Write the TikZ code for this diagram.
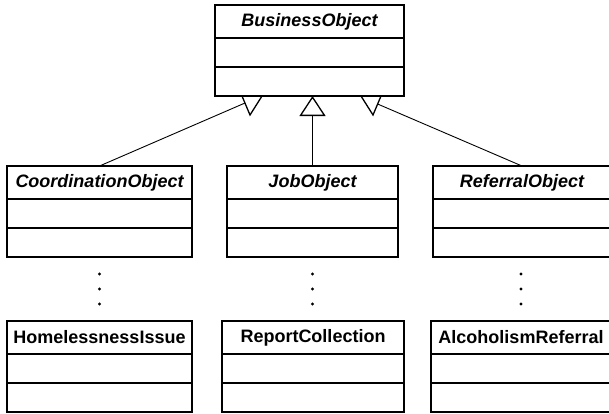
\documentclass[tikz,border=0pt]{standalone}
\usepackage{fontspec}
\setmainfont{Liberation Sans}
\usetikzlibrary{positioning,arrows.meta}

\tikzset{
	clsname/.style={draw,line width=1.6pt,minimum width=#1,minimum height=33pt,
		inner sep=0pt,outer sep=0pt,font=\fontsize{18}{20}\selectfont\bfseries},
	clsrow/.style={draw,line width=1.6pt,minimum width=#1,minimum height=29pt,
		inner sep=0pt,outer sep=0pt},
	inherit/.style={line width=0.9pt},
	hollow/.style={line width=1.3pt,line join=miter}
}

\begin{document}
\begin{tikzpicture}[x=1pt,y=-1pt]
	\useasboundingbox (0,0) rectangle (609,413);

	% parent class
	\node[clsname=189pt,anchor=north] (bo) at (309.5,5) {\itshape BusinessObject};
	\node[clsrow=189pt,below=0pt of bo] (bo2) {};
	\node[clsrow=189pt,below=0pt of bo2] (bo3) {};

	% abstract subclasses
	\node[clsname=185pt,anchor=north] (coord) at (99.5,166) {\itshape CoordinationObject};
	\node[clsrow=185pt,below=0pt of coord] (coord2) {};
	\node[clsrow=185pt,below=0pt of coord2] (coord3) {};

	\node[clsname=171pt,anchor=north] (job) at (312.5,166) {\itshape JobObject};
	\node[clsrow=171pt,below=0pt of job] (job2) {};
	\node[clsrow=171pt,below=0pt of job2] (job3) {};

	\node[clsname=178pt,anchor=north] (ref) at (522,166) {\itshape ReferralObject};
	\node[clsrow=178pt,below=0pt of ref] (ref2) {};
	\node[clsrow=178pt,below=0pt of ref2] (ref3) {};

	% concrete classes
	\node[clsname=185pt,anchor=north] (hi) at (99.5,321) {HomelessnessIssue};
	\node[clsrow=185pt,below=0pt of hi] (hi2) {};
	\node[clsrow=185pt,below=0pt of hi2] (hi3) {};

	\node[clsname=182pt,anchor=north] (rc) at (313,321) {ReportCollection};
	\node[clsrow=182pt,below=0pt of rc] (rc2) {};
	\node[clsrow=182pt,below=0pt of rc2] (rc3) {};

	\node[clsname=180pt,anchor=north] (ar) at (521,321) {AlcoholismReferral};
	\node[clsrow=180pt,below=0pt of ar] (ar2) {};
	\node[clsrow=180pt,below=0pt of ar2] (ar3) {};

%	====================================================================
	\draw[inherit,-{Triangle[open,length=20pt,width=26pt,line width=1.3pt]}]
		(job.north) -- (job.north |- bo3.south);

	\coordinate (lvl) at (245,103);
	\coordinate (rvr) at (377.6,104);
	\draw[hollow] (242,96) -- (250,115) -- (262,96);
	\draw[hollow] (361,96) -- (373,115) -- (381,96);
	\draw[inherit] (coord.north) -- (lvl);
	\draw[inherit] (ref.north) -- (rvr);
%	====================================================================

	\foreach \x in {99.5,312.5,521}
		\foreach \y in {274,289,304}
			\fill (\x,\y) circle (1.7pt);
\end{tikzpicture}
\end{document}
